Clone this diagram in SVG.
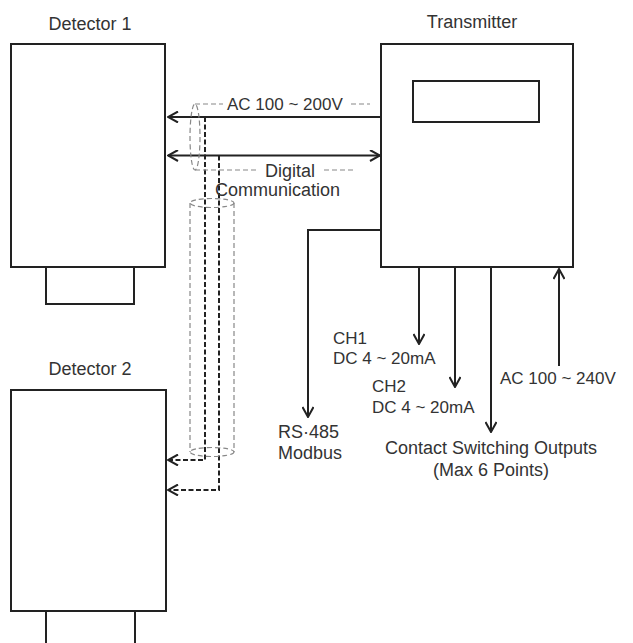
<svg xmlns="http://www.w3.org/2000/svg" width="633" height="643" viewBox="0 0 633 643">
<defs>
<style>
.box{fill:#fff;stroke:#222;stroke-width:2}
.ln{fill:none;stroke:#222;stroke-width:2}
.dk{fill:none;stroke:#222;stroke-width:2;stroke-dasharray:5 2.5}
.gr{fill:none;stroke:#888;stroke-width:1.2;stroke-dasharray:5 3}
text{font-family:"Liberation Sans",Arial,sans-serif;font-size:17px;fill:#333}
.c{text-anchor:middle}
.b{font-size:18px}
</style>
<marker id="ah" viewBox="0 0 12 12" refX="11" refY="6" markerWidth="12" markerHeight="12" markerUnits="userSpaceOnUse" orient="auto-start-reverse">
<path d="M1,0.5 L11,6 L1,11.5" fill="none" stroke="#222" stroke-width="2"/>
</marker>
</defs>
<g id="detector1">
<rect class="box" x="11" y="44" width="154" height="223"/>
<rect class="box" x="46" y="267" width="88" height="37"/>
<text class="c b" x="90" y="30">Detector 1</text>
</g>
<g id="detector2">
<rect class="box" x="11" y="390" width="155" height="221"/>
<rect class="box" x="46" y="611" width="89" height="40"/>
<text class="c b" x="90" y="375">Detector 2</text>
</g>
<g id="transmitter">
<rect class="box" x="381" y="44" width="192" height="223"/>
<rect class="box" x="413" y="81" width="126" height="41"/>
<text class="c b" x="472" y="28">Transmitter</text>
</g>
<g id="connectors">
<line class="ln" x1="381" y1="117" x2="168" y2="117" marker-end="url(#ah)"/>
<line class="ln" x1="168" y1="155.5" x2="380" y2="155.5" marker-start="url(#ah)" marker-end="url(#ah)"/>
<polyline class="dk" points="205,117 205,460 168,460" marker-end="url(#ah)"/>
<polyline class="dk" points="219,155.5 219,490 168,490" marker-end="url(#ah)"/>
<ellipse class="gr" cx="195" cy="137" rx="5" ry="33"/>
<line class="gr" x1="195" y1="104" x2="223" y2="104"/>
<line class="gr" x1="351" y1="104" x2="370" y2="104"/>
<line class="gr" x1="195" y1="170" x2="258" y2="170"/>
<line class="gr" x1="324" y1="170" x2="356" y2="170"/>
<ellipse class="gr" cx="212" cy="203" rx="22" ry="4.5"/>
<ellipse class="gr" cx="212" cy="452" rx="22" ry="4.5"/>
<line class="gr" x1="190" y1="203" x2="190" y2="452"/>
<line class="gr" x1="234" y1="203" x2="234" y2="452"/>
<polyline class="ln" points="381,230 308,230 308,417" marker-end="url(#ah)"/>
<line class="ln" x1="419" y1="267" x2="419" y2="344" marker-end="url(#ah)"/>
<line class="ln" x1="455" y1="267" x2="455" y2="387" marker-end="url(#ah)"/>
<line class="ln" x1="491" y1="267" x2="491" y2="432" marker-end="url(#ah)"/>
<line class="ln" x1="559" y1="366" x2="559" y2="269" marker-end="url(#ah)"/>
</g>
<g id="labels">
<text x="227" y="110">AC 100 ~ 200V</text>
<text class="b" x="265" y="177">Digital</text>
<text class="b" x="215" y="196">Communication</text>
<text x="333" y="344">CH1</text>
<text x="333" y="364">DC 4 ~ 20mA</text>
<text x="372" y="392">CH2</text>
<text x="372" y="413">DC 4 ~ 20mA</text>
<text x="500" y="384">AC 100 ~ 240V</text>
<text class="b" x="278" y="438">RS·485</text>
<text class="b" x="278" y="459">Modbus</text>
<text class="c b" x="491" y="454">Contact Switching Outputs</text>
<text class="c b" x="491" y="476">(Max 6 Points)</text>
</g>
</svg>
